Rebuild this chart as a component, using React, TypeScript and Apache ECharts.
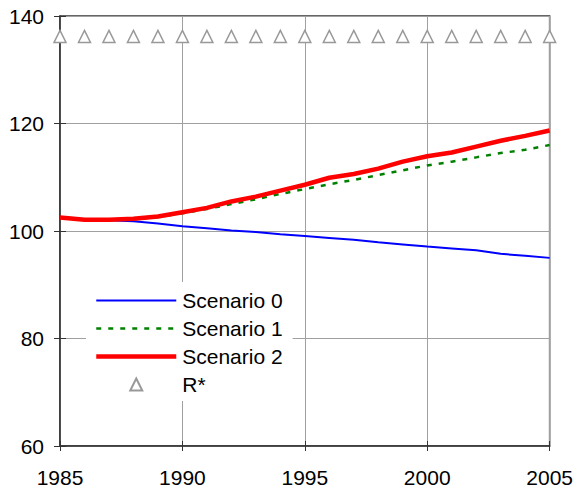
import React, { useEffect, useRef } from "react";
import * as echarts from "echarts";

const years = [1985, 1986, 1987, 1988, 1989, 1990, 1991, 1992, 1993, 1994, 1995, 1996, 1997, 1998, 1999, 2000, 2001, 2002, 2003, 2004, 2005];
const scenario0 = [102.5, 102.2, 102.0, 101.8, 101.4, 100.9, 100.5, 100.1, 99.8, 99.4, 99.05, 98.7, 98.35, 97.9, 97.5, 97.1, 96.75, 96.4, 95.75, 95.4, 95.0];
const scenario1 = [102.5, 102.0, 102.0, 102.2, 102.6, 103.3, 104.1, 105.0, 105.9, 106.9, 107.8, 108.7, 109.5, 110.4, 111.3, 112.2, 112.9, 113.7, 114.5, 115.1, 116.0];
const scenario2 = [102.5, 102.1, 102.1, 102.3, 102.7, 103.5, 104.3, 105.5, 106.4, 107.5, 108.6, 109.9, 110.6, 111.6, 112.9, 113.9, 114.6, 115.7, 116.8, 117.7, 118.7];
const rStar = [136.2, 136.2, 136.2, 136.2, 136.2, 136.2, 136.2, 136.2, 136.2, 136.2, 136.2, 136.2, 136.2, 136.2, 136.2, 136.2, 136.2, 136.2, 136.2, 136.2, 136.2];
const seriesNames = ["Scenario 0", "Scenario 1", "Scenario 2", "R*"];

const FONT = "'Liberation Sans', Arial, sans-serif";

function pairs(vals: number[]) {
  return years.map((y, i) => [y, vals[i]]);
}

export default function App() {
  const ref = useRef<HTMLDivElement>(null);
  useEffect(() => {
    if (!ref.current) return;
    const chart = echarts.init(ref.current, undefined, { renderer: "svg" });
    const axisCommonX = { type: "value", min: 1985, max: 2005, interval: 5 };
    const axisCommonY = { type: "value", min: 60, max: 140, interval: 20 };
    const hideSym = { opacity: 0 };
    chart.setOption({
      animation: false,
      backgroundColor: "#fff",
      textStyle: { fontFamily: FONT },
      grid: {
        left: 60,
        right: 26,
        top: 16,
        bottom: 42,
        show: true,
        borderColor: "#333",
        borderWidth: 1.5,
        backgroundColor: "transparent",
      },
      legend: {
        orient: "vertical",
        left: 86,
        top: 282,
        padding: [8, 10, 6, 8],
        backgroundColor: "#fff",
        itemWidth: 80,
        itemHeight: 15,
        itemGap: 7,
        data: [
          { name: seriesNames[0], itemStyle: hideSym, lineStyle: { width: 2 } },
          { name: seriesNames[1], itemStyle: hideSym, lineStyle: { width: 2.5 } },
          { name: seriesNames[2], itemStyle: hideSym, lineStyle: { width: 4.5 } },
          { name: seriesNames[3] },
        ],
        textStyle: { fontFamily: FONT, fontSize: 21, color: "#000", padding: [0, 0, 0, 1] },
      },
      xAxis: [
        {
          ...axisCommonX,
          axisLine: { show: true, lineStyle: { color: "#333", width: 1.5 } },
          axisTick: { show: true, inside: false, length: 5, lineStyle: { color: "#333" } },
          axisLabel: {
            fontFamily: FONT,
            fontSize: 21,
            color: "#000",
            margin: 21,
            formatter: (v: number) => String(v),
          },
          splitLine: { show: true, lineStyle: { color: "#a0a0a0", width: 1 } },
        },
        {
          ...axisCommonX,
          position: "bottom",
          axisLine: { show: false },
          axisTick: { show: true, inside: true, length: 5, lineStyle: { color: "#333" } },
          axisLabel: { show: false },
          splitLine: { show: false },
        },
      ],
      yAxis: [
        {
          ...axisCommonY,
          axisLine: { show: true, lineStyle: { color: "#333", width: 1.5 } },
          axisTick: { show: true, inside: false, length: 6, lineStyle: { color: "#333" } },
          axisLabel: { fontFamily: FONT, fontSize: 21, color: "#000", margin: 16 },
          splitLine: { show: true, lineStyle: { color: "#a0a0a0", width: 1 } },
        },
        {
          ...axisCommonY,
          position: "left",
          axisLine: { show: false },
          axisTick: { show: true, inside: true, length: 6, lineStyle: { color: "#333" } },
          axisLabel: { show: false },
          splitLine: { show: false },
        },
      ],
      series: [
        {
          name: seriesNames[0],
          type: "line",
          data: pairs(scenario0),
          symbol: "none",
          color: "#0000ff",
          lineStyle: { color: "#0000ff", width: 2 },
          z: 2,
        },
        {
          name: seriesNames[1],
          type: "line",
          data: pairs(scenario1),
          symbol: "none",
          color: "#008000",
          lineStyle: { color: "#008000", width: 2.5, type: [5, 7] },
          z: 3,
        },
        {
          name: seriesNames[2],
          type: "line",
          data: pairs(scenario2),
          symbol: "none",
          color: "#ff0000",
          lineStyle: { color: "#ff0000", width: 4.5 },
          z: 4,
        },
        {
          name: seriesNames[3],
          type: "line",
          data: pairs(rStar),
          symbol: "triangle",
          symbolSize: 12,
          showSymbol: true,
          showAllSymbol: true,
          clip: false,
          color: "#999",
          lineStyle: { width: 0, opacity: 0 },
          itemStyle: { color: "#fff", borderColor: "#999", borderWidth: 1.5 },
          z: 5,
        },
      ],
    });
    return () => chart.dispose();
  }, []);
  return (
    <div
      ref={ref}
      style={{ position: "fixed", left: 0, top: 0, width: 576, height: 488 }}
    />
  );
}
